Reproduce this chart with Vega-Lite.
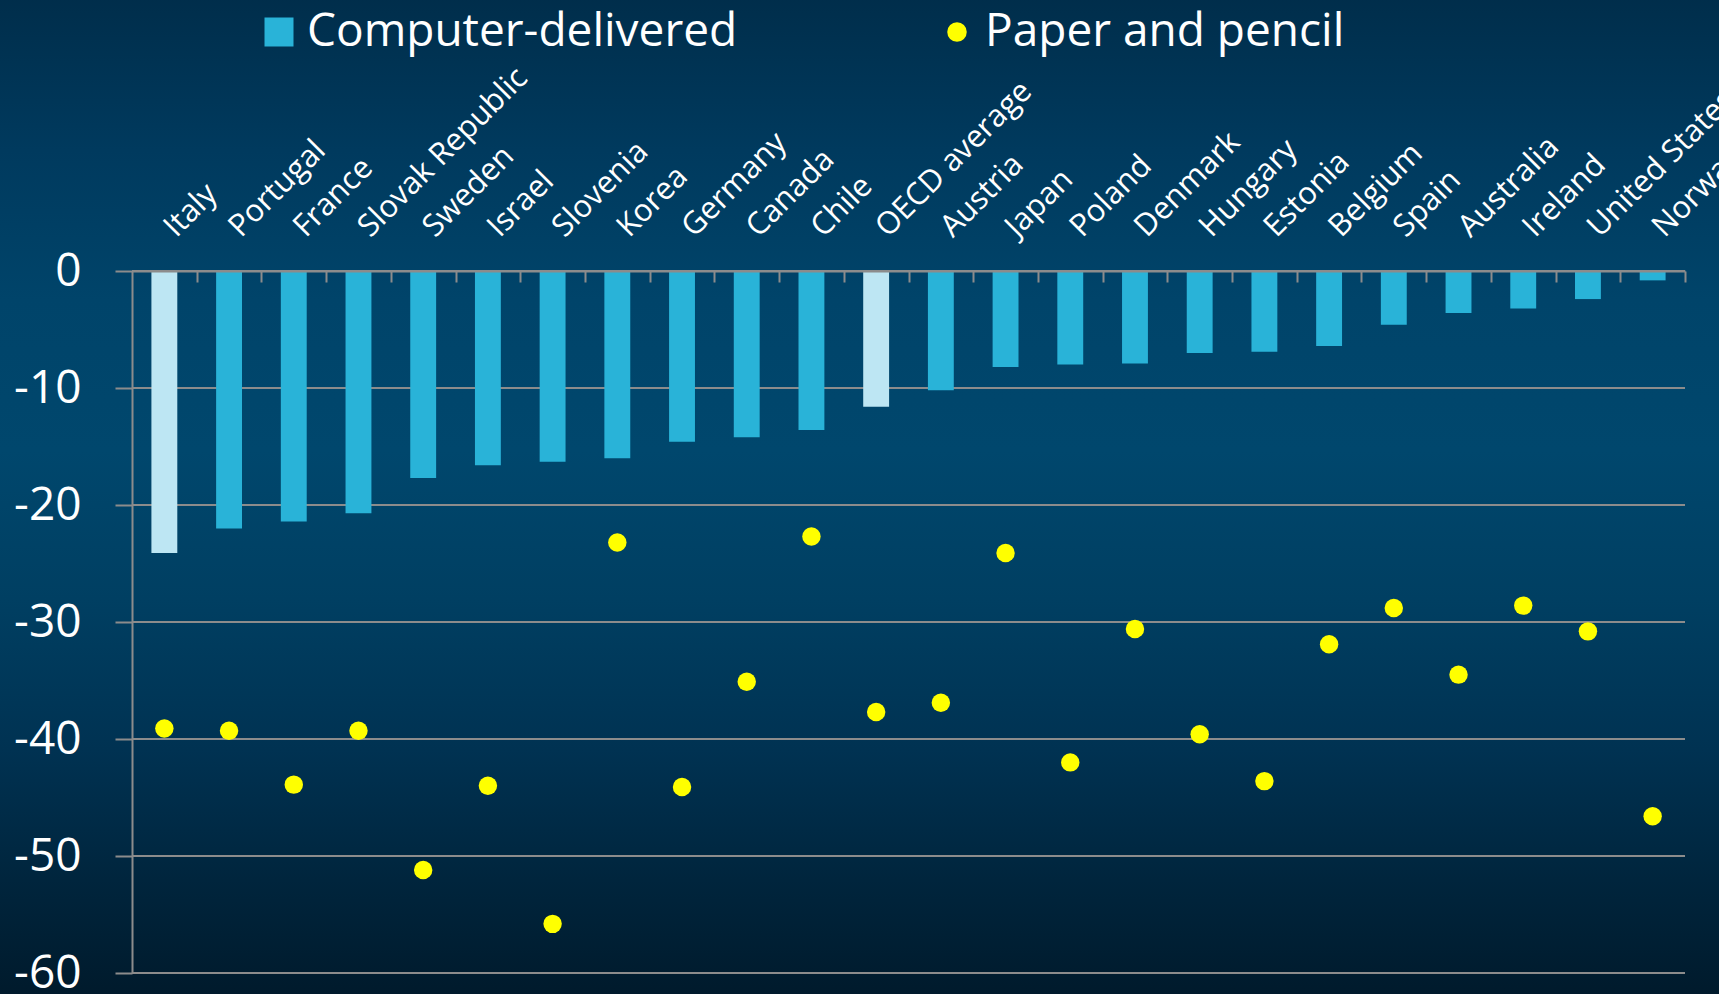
{
  "$schema": "https://vega.github.io/schema/vega-lite/v6.json",
  "autosize": {"type": "none"},
  "padding": {"left": 132, "top": 271, "right": 34, "bottom": 21},
  "width": 1553,
  "height": 702,
  "background": "#00304f",
  "datasets": {
    "scores": [
      {"country": "Italy", "computer": -24.1, "paper": -39.1, "group": "Highlighted"},
      {"country": "Portugal", "computer": -22.0, "paper": -39.3, "group": "Computer-delivered"},
      {"country": "France", "computer": -21.4, "paper": -43.9, "group": "Computer-delivered"},
      {"country": "Slovak Republic", "computer": -20.7, "paper": -39.3, "group": "Computer-delivered"},
      {"country": "Sweden", "computer": -17.7, "paper": -51.2, "group": "Computer-delivered"},
      {"country": "Israel", "computer": -16.6, "paper": -44.0, "group": "Computer-delivered"},
      {"country": "Slovenia", "computer": -16.3, "paper": -55.8, "group": "Computer-delivered"},
      {"country": "Korea", "computer": -16.0, "paper": -23.2, "group": "Computer-delivered"},
      {"country": "Germany", "computer": -14.6, "paper": -44.1, "group": "Computer-delivered"},
      {"country": "Canada", "computer": -14.2, "paper": -35.1, "group": "Computer-delivered"},
      {"country": "Chile", "computer": -13.6, "paper": -22.7, "group": "Computer-delivered"},
      {"country": "OECD average", "computer": -11.6, "paper": -37.7, "group": "Highlighted"},
      {"country": "Austria", "computer": -10.2, "paper": -36.9, "group": "Computer-delivered"},
      {"country": "Japan", "computer": -8.2, "paper": -24.1, "group": "Computer-delivered"},
      {"country": "Poland", "computer": -8.0, "paper": -42.0, "group": "Computer-delivered"},
      {"country": "Denmark", "computer": -7.9, "paper": -30.6, "group": "Computer-delivered"},
      {"country": "Hungary", "computer": -7.0, "paper": -39.6, "group": "Computer-delivered"},
      {"country": "Estonia", "computer": -6.9, "paper": -43.6, "group": "Computer-delivered"},
      {"country": "Belgium", "computer": -6.4, "paper": -31.9, "group": "Computer-delivered"},
      {"country": "Spain", "computer": -4.6, "paper": -28.8, "group": "Computer-delivered"},
      {"country": "Australia", "computer": -3.6, "paper": -34.5, "group": "Computer-delivered"},
      {"country": "Ireland", "computer": -3.2, "paper": -28.6, "group": "Computer-delivered"},
      {"country": "United States", "computer": -2.4, "paper": -30.8, "group": "Computer-delivered"},
      {"country": "Norway", "computer": -0.8, "paper": -46.6, "group": "Computer-delivered"}
    ],
    "grid": [
      {"tick": 0}, {"tick": -10}, {"tick": -20}, {"tick": -30}, {"tick": -40}, {"tick": -50}, {"tick": -60}
    ]
  },
  "layer": [
    {
      "data": {"values": [{"panel": "background"}]},
      "mark": {
        "type": "rect",
        "fill": {
          "gradient": "linear",
          "x1": 0, "y1": 0, "x2": 0, "y2": 1,
          "stops": [
            {"offset": 0.0, "color": "#002d4a"},
            {"offset": 0.157, "color": "#003a5e"},
            {"offset": 0.304, "color": "#00446a"},
            {"offset": 0.452, "color": "#00476d"},
            {"offset": 0.599, "color": "#003f62"},
            {"offset": 0.746, "color": "#003252"},
            {"offset": 0.874, "color": "#00253d"},
            {"offset": 1.0, "color": "#00192a"}
          ]
        }
      },
      "encoding": {
        "x": {"datum": -10, "type": "quantitative", "scale": {"domain": [0, 100], "nice": false, "zero": false}, "axis": null},
        "x2": {"datum": 105},
        "y": {
          "datum": 24, "type": "quantitative", "scale": {"domain": [-60, 0], "nice": false},
          "axis": {
            "title": null, "zindex": 2, "grid": false,
            "values": [0, -10, -20, -30, -40, -50, -60], "labelExpr": "'' + datum.value",
            "domainColor": "#8c8c8c", "domainWidth": 2,
            "tickColor": "#8c8c8c", "tickWidth": 2, "tickSize": 17,
            "labelFontSize": 46, "labelFont": "Open Sans", "labelColor": "#ffffff",
            "labelPadding": 34
          }
        },
        "y2": {"datum": -63}
      }
    },
    {
      "data": {"name": "grid"},
      "mark": {"type": "rule", "stroke": "#8c8c8c", "strokeWidth": 2},
      "encoding": {
        "y": {
          "field": "tick", "type": "quantitative", "scale": {"domain": [-60, 0], "nice": false},
          "axis": {
            "title": null, "zindex": 2, "grid": false,
            "values": [0, -10, -20, -30, -40, -50, -60], "labelExpr": "'' + datum.value",
            "domainColor": "#8c8c8c", "domainWidth": 2,
            "tickColor": "#8c8c8c", "tickWidth": 2, "tickSize": 17,
            "labelFontSize": 46, "labelFont": "Open Sans", "labelColor": "#ffffff",
            "labelPadding": 34
          }
        }
      }
    },
    {
      "data": {"name": "scores"},
      "mark": {"type": "bar"},
      "encoding": {
        "x": {
          "field": "country", "type": "nominal", "sort": null,
          "scale": {"paddingInner": 0.6, "paddingOuter": 0.3},
          "axis": {
            "orient": "top", "title": null, "zindex": 2,
            "labelAngle": -45, "labelAlign": "left", "labelBaseline": "alphabetic",
            "labelFontSize": 31, "labelFont": "Open Sans", "labelColor": "#ffffff",
            "labelPadding": 44, "labelLimit": 0, "labelOverlap": false,
            "tickOffset": 32.36, "labelOffset": -21,
            "tickSize": -11, "tickWidth": 2, "tickColor": "#8c8c8c",
            "domainColor": "#8c8c8c", "domainWidth": 2, "grid": false
          }
        },
        "y": {
          "field": "computer", "type": "quantitative",
          "scale": {"domain": [-60, 0], "nice": false},
          "axis": {
            "title": null, "zindex": 2, "grid": false,
            "values": [0, -10, -20, -30, -40, -50, -60], "labelExpr": "'' + datum.value",
            "domainColor": "#8c8c8c", "domainWidth": 2,
            "tickColor": "#8c8c8c", "tickWidth": 2, "tickSize": 17,
            "labelFontSize": 46, "labelFont": "Open Sans", "labelColor": "#ffffff",
            "labelPadding": 34
          }
        },
        "color": {
          "field": "group", "type": "nominal",
          "scale": {"domain": ["Computer-delivered", "Paper and pencil", "Highlighted"], "range": ["#29b3d8", "#ffff00", "#bde6f3"]},
          "legend": {
            "orient": "none", "legendX": 124, "legendY": -262,
            "direction": "horizontal", "title": null,
            "values": ["Computer-delivered", "Paper and pencil"],
            "labelFontSize": 46, "labelFont": "Open Sans", "labelColor": "#ffffff",
            "labelOffset": 5, "columnPadding": 196, "labelLimit": 0,
            "symbolSize": 841, "symbolStrokeWidth": 0, "padding": 0,
            "encode": {
              "symbols": {
                "update": {
                  "shape": {"signal": "datum.value === 'Paper and pencil' ? 'circle' : 'square'"},
                  "size": {"signal": "datum.value === 'Paper and pencil' ? 380 : 841"},
                  "fill": {"signal": "datum.value === 'Paper and pencil' ? '#ffff00' : '#29b3d8'"},
                  "opacity": {"value": 1}
                }
              }
            }
          }
        }
      }
    },
    {
      "data": {"name": "scores"},
      "mark": {"type": "point", "filled": true, "shape": "circle", "size": 340, "opacity": 1},
      "encoding": {
        "x": {"field": "country", "type": "nominal", "sort": null, "scale": {"paddingInner": 0.6, "paddingOuter": 0.3}, "axis": null},
        "y": {
          "field": "paper", "type": "quantitative", "scale": {"domain": [-60, 0], "nice": false},
          "axis": {
            "title": null, "zindex": 2, "grid": false,
            "values": [0, -10, -20, -30, -40, -50, -60], "labelExpr": "'' + datum.value",
            "domainColor": "#8c8c8c", "domainWidth": 2,
            "tickColor": "#8c8c8c", "tickWidth": 2, "tickSize": 17,
            "labelFontSize": 46, "labelFont": "Open Sans", "labelColor": "#ffffff",
            "labelPadding": 34
          }
        },
        "color": {"datum": "Paper and pencil", "type": "nominal", "legend": null}
      }
    }
  ],
  "resolve": {"scale": {"x": "independent"}, "axis": {"x": "independent"}},
  "config": {
    "view": {"stroke": null}
  }
}
